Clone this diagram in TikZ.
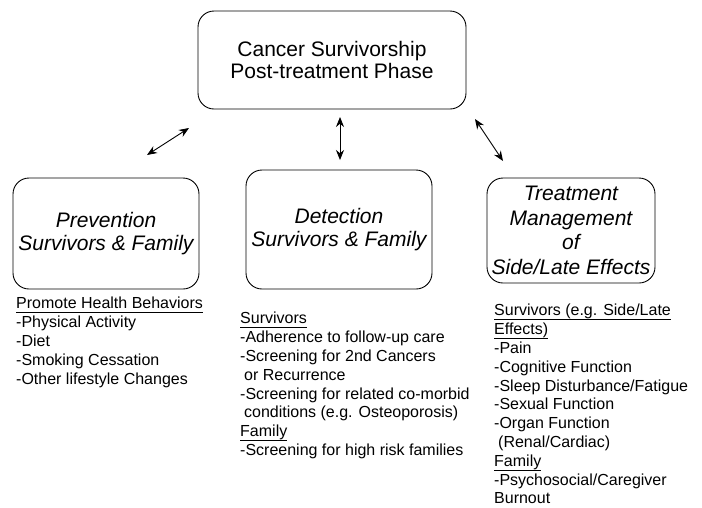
\documentclass[tikz,border=0pt]{standalone}
\usepackage{fontspec}
\setmainfont{Liberation Sans}
\usetikzlibrary{arrows.meta}
\newcommand{\hdr}[1]{\setbox0\hbox{#1}\rlap{\rule[-4.5pt]{\wd0}{1.2pt}}\box0}
\begin{document}
\begin{tikzpicture}[x=1pt,y=-1pt]
\tikzset{box/.style={draw,line width=0.9pt,rounded corners=16pt,align=center,inner sep=0pt,
  font=\fontsize{21}{22.5}\selectfont}}
\tikzset{itbox/.style={box,font=\fontsize{21}{22.5}\selectfont\itshape}}
\tikzset{list/.style={anchor=north west,align=left,inner sep=0pt,font=\fontsize{16}{18.8}\selectfont}}
\tikzset{link/.style={{Stealth[length=10pt,width=8pt]}-{Stealth[length=10pt,width=8pt]},line width=0.9pt}}
\useasboundingbox (0,0) rectangle (702,507);
%boxes
\node[box,minimum width=268pt,minimum height=98pt] (phase) at (332,60) {Cancer Survivorship\\Post-treatment Phase};
\node[itbox,minimum width=186pt,minimum height=111pt] (prev) at (106,233.5) {Prevention\\Survivors \& Family};
\node[itbox,minimum width=186pt,minimum height=119pt] (detect) at (339,229.5) {Detection\\Survivors \& Family};
\node[itbox,minimum width=168pt,minimum height=105pt,font=\fontsize{21}{24.5}\selectfont\itshape] (treat) at (571,230.5) {Treatment\\Management\\of\\Side/Late Effects};
%arrows
\coordinate (prevEnd) at (147,155);
\coordinate (prevTop) at (189,128);
\coordinate (detectEnd) at (340,160);
\coordinate (detectTop) at (340,117);
\coordinate (treatEnd) at (503,161);
\coordinate (treatTop) at (475,119);
\draw[link] (prevEnd) -- (prevTop);
\draw[link] (detectEnd) -- (detectTop);
\draw[link] (treatEnd) -- (treatTop);
%lists
\node[list] (prevList) at (16,297) {\hdr{Promote Health Behaviors}\\-Physical Activity\\-Diet\\-Smoking Cessation\\-Other lifestyle Changes};
\node[list] (detectList) at (240,312) {\hdr{Survivors}\\-Adherence to follow-up care\\-Screening for 2nd Cancers\\\hspace{4pt}or Recurrence\\-Screening for related co-morbid\\\hspace{4pt}conditions (e.g. Osteoporosis)\\\hdr{Family}\\-Screening for high risk families};
\node[list] (treatList) at (494,304) {\hdr{Survivors (e.g. Side/Late}\\\hdr{Effects)}\\-Pain\\-Cognitive Function\\-Sleep Disturbance/Fatigue\\-Sexual Function\\-Organ Function\\\hspace{4pt}(Renal/Cardiac)\\\hdr{Family}\\-Psychosocial/Caregiver\\Burnout};
\end{tikzpicture}
\end{document}
